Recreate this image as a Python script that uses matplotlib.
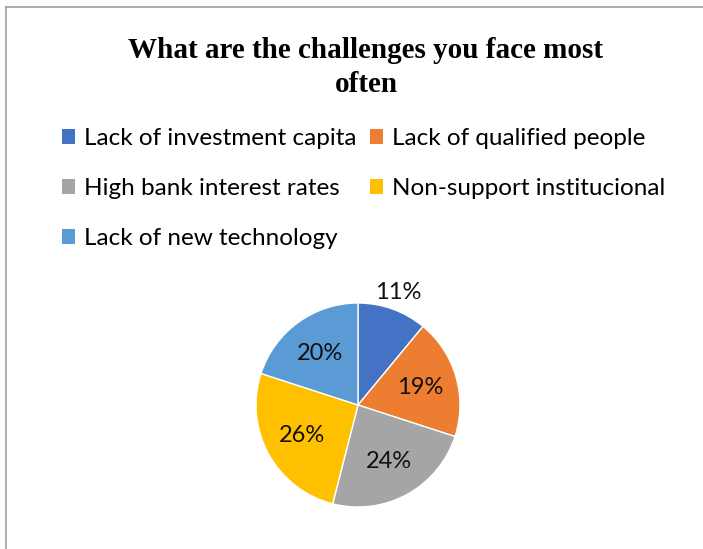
import numpy as np
import matplotlib.pyplot as plt
from matplotlib.patches import Patch
from matplotlib.lines import Line2D

# data
labels = ["Lack of investment capita", "Lack of qualified people",
          "High bank interest rates", "Non-support institucional",
          "Lack of new technology"]
values = [11, 19, 24, 26, 20]
colors = ["#4472C4", "#ED7D31", "#A5A5A5", "#FFC000", "#5B9BD5"]

W, H = 703, 549
fig = plt.figure(figsize=(W / 100, H / 100), dpi=100)

# pie axes, centre (358, 405), radius 102 px
cx, cy, r = 358, 405, 102
ax = fig.add_axes([(cx - r) / W, (H - cy - r) / H, 2 * r / W, 2 * r / H])
wedges, _ = ax.pie(values, colors=colors, startangle=90, counterclock=False,
                   wedgeprops=dict(edgecolor="white", linewidth=1))
ax.set_xlim(-1, 1)
ax.set_ylim(-1, 1)

for i, w in enumerate(wedges):
    ang = np.deg2rad((w.theta1 + w.theta2) / 2)
    d = 1.17 if i == 0 else 0.63
    ax.text(d * np.cos(ang), d * np.sin(ang), f"{values[i]}%",
            ha="center", va="center", fontsize=17, family="Lato", color="#111111")

# title
tx = 366 / W
fig.text(tx, 1 - 51 / H, "What are the challenges you face most",
         ha="center", va="center", fontsize=21, fontweight="bold", family="Liberation Serif")
fig.text(tx, 1 - 85 / H, "often",
         ha="center", va="center", fontsize=21, fontweight="bold", family="Liberation Serif")

# legend, row-major order
order = [0, 2, 4, 1, 3]
handles = [Patch(facecolor=colors[i], edgecolor="none") for i in order]
fig.legend(handles, [labels[i] for i in order], ncol=2, frameon=False,
           loc="upper left", bbox_to_anchor=(62 / W, 1 - 128 / H),
           borderpad=0, borderaxespad=0, handlelength=0.55, handleheight=0.55,
           handletextpad=0.35, columnspacing=0.55, labelspacing=1.2,
           prop=dict(family="Lato", size=17.5))

# chart border
fig.add_artist(Line2D([6 / W, 1], [1 - 7 / H, 1 - 7 / H], color="#A0A0A0", lw=1.2))
fig.add_artist(Line2D([6 / W, 6 / W], [0, 1 - 7 / H], color="#A0A0A0", lw=1.2))

fig.savefig("out.png", dpi=100)
